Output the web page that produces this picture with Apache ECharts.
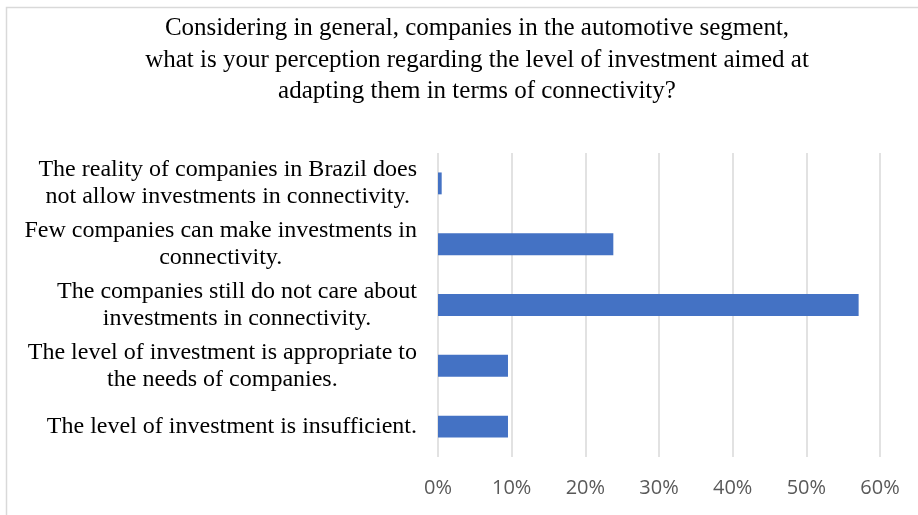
<!DOCTYPE html>
<html>
<head>
<meta charset="utf-8">
<script src="https://cdn.jsdelivr.net/npm/echarts@6/dist/echarts.min.js"></script>
<style>html,body{margin:0;padding:0;background:#fff;}#c{width:918px;height:515px;}</style>
</head>
<body>
<div id="c"></div>
<script>
const titleText = 'Considering in general, companies in the automotive segment,\nwhat is your perception regarding the level of investment aimed at\nadapting them in terms of connectivity?';
const categories = [
  'The reality of companies in Brazil does\nnot allow investments in connectivity.',
  'Few companies can make investments in\nconnectivity.',
  'The companies still do not care about\ninvestments in connectivity.',
  'The level of investment is appropriate to\nthe needs of companies.',
  'The level of investment is insufficient.'
];
const values = [0.5, 23.8, 57.1, 9.5, 9.5];
const tickMin = 0, tickMax = 60, tickStep = 10;

const chart = echarts.init(document.getElementById('c'));
chart.setOption({
  backgroundColor: '#fff',
  animation: false,
  graphic: [{
    type: 'rect', shape: {x: 6.5, y: 7.5, width: 1000, height: 1000},
    style: {fill: 'none', stroke: '#d9d9d9', lineWidth: 1.5}, silent: true
  }],
  title: {
    text: titleText, left: 472, top: 8, textAlign: 'center',
    textStyle: {fontFamily: 'Liberation Serif', fontSize: 25, fontWeight: 'normal', color: '#000', lineHeight: 31.5}
  },
  grid: {left: 438, right: 38, top: 153, bottom: 58, containLabel: false},
  xAxis: {
    type: 'value', min: tickMin, max: tickMax, interval: tickStep,
    axisLine: {show: false}, axisTick: {show: false},
    splitLine: {show: true, lineStyle: {color: '#d9d9d9', width: 1.5}},
    axisLabel: {formatter: v => v + '%', color: '#595959', fontFamily: 'Open Sans', fontSize: 20, margin: 21}
  },
  yAxis: {
    type: 'category', data: categories, inverse: true,
    axisLine: {show: false}, axisTick: {show: false},
    axisLabel: {
      margin: 21, formatter: v => '{c|' + v + '}',
      rich: {c: {align: 'center', fontFamily: 'Liberation Serif', fontSize: 24, lineHeight: 27, color: '#000'}}
    }
  },
  series: [{
    type: 'bar', data: values, barCategoryGap: '64%',
    itemStyle: {color: '#4472C4'}
  }]
});
</script>
</body>
</html>
